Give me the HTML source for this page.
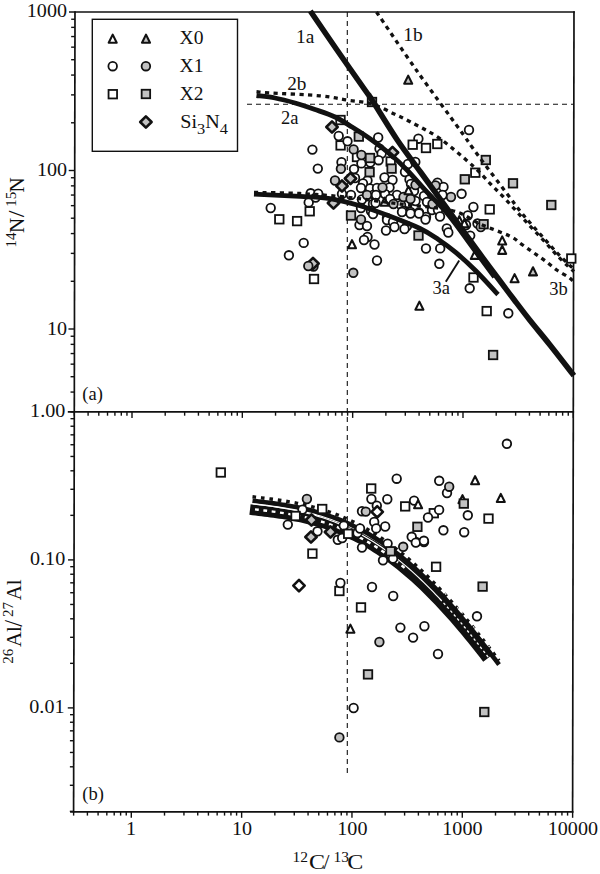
<!DOCTYPE html><html><head><meta charset="utf-8"><style>html,body{margin:0;padding:0;background:#fff;}svg{display:block;}text{font-family:"Liberation Serif",serif;fill:#111;}</style></head><body>
<svg width="600" height="874" viewBox="0 0 600 874">
<rect width="600" height="874" fill="#fff"/>
<line x1="75.00" y1="11.20" x2="73.60" y2="812.60" stroke="#111" stroke-width="1.7" />
<line x1="574.00" y1="11.20" x2="572.60" y2="812.60" stroke="#111" stroke-width="1.7" />
<line x1="69.00" y1="12.00" x2="574.80" y2="12.00" stroke="#111" stroke-width="1.7" />
<line x1="67.80" y1="411.90" x2="574.10" y2="411.90" stroke="#111" stroke-width="1.7" />
<line x1="70.10" y1="811.80" x2="573.40" y2="811.80" stroke="#111" stroke-width="1.7" />
<line x1="70.50" y1="411.88" x2="74.30" y2="411.88" stroke="#111" stroke-width="1.4" />
<line x1="70.53" y1="392.07" x2="74.33" y2="392.07" stroke="#111" stroke-width="1.4" />
<line x1="70.56" y1="376.71" x2="74.36" y2="376.71" stroke="#111" stroke-width="1.4" />
<line x1="70.58" y1="364.16" x2="74.38" y2="364.16" stroke="#111" stroke-width="1.4" />
<line x1="70.60" y1="353.55" x2="74.40" y2="353.55" stroke="#111" stroke-width="1.4" />
<line x1="70.62" y1="344.36" x2="74.42" y2="344.36" stroke="#111" stroke-width="1.4" />
<line x1="70.63" y1="336.25" x2="74.43" y2="336.25" stroke="#111" stroke-width="1.4" />
<line x1="68.45" y1="329.00" x2="74.45" y2="329.00" stroke="#111" stroke-width="1.4" />
<line x1="70.73" y1="281.29" x2="74.53" y2="281.29" stroke="#111" stroke-width="1.4" />
<line x1="70.78" y1="253.38" x2="74.58" y2="253.38" stroke="#111" stroke-width="1.4" />
<line x1="70.81" y1="233.57" x2="74.61" y2="233.57" stroke="#111" stroke-width="1.4" />
<line x1="70.84" y1="218.21" x2="74.64" y2="218.21" stroke="#111" stroke-width="1.4" />
<line x1="70.86" y1="205.66" x2="74.66" y2="205.66" stroke="#111" stroke-width="1.4" />
<line x1="70.88" y1="195.05" x2="74.68" y2="195.05" stroke="#111" stroke-width="1.4" />
<line x1="70.90" y1="185.86" x2="74.70" y2="185.86" stroke="#111" stroke-width="1.4" />
<line x1="70.91" y1="177.75" x2="74.71" y2="177.75" stroke="#111" stroke-width="1.4" />
<line x1="68.72" y1="170.50" x2="74.72" y2="170.50" stroke="#111" stroke-width="1.4" />
<line x1="71.01" y1="122.79" x2="74.81" y2="122.79" stroke="#111" stroke-width="1.4" />
<line x1="71.05" y1="94.88" x2="74.85" y2="94.88" stroke="#111" stroke-width="1.4" />
<line x1="71.09" y1="75.07" x2="74.89" y2="75.07" stroke="#111" stroke-width="1.4" />
<line x1="71.12" y1="59.71" x2="74.92" y2="59.71" stroke="#111" stroke-width="1.4" />
<line x1="71.14" y1="47.16" x2="74.94" y2="47.16" stroke="#111" stroke-width="1.4" />
<line x1="71.16" y1="36.55" x2="74.96" y2="36.55" stroke="#111" stroke-width="1.4" />
<line x1="71.17" y1="27.36" x2="74.97" y2="27.36" stroke="#111" stroke-width="1.4" />
<line x1="71.19" y1="19.25" x2="74.99" y2="19.25" stroke="#111" stroke-width="1.4" />
<line x1="69.80" y1="811.35" x2="73.60" y2="811.35" stroke="#111" stroke-width="1.4" />
<line x1="69.85" y1="785.29" x2="73.65" y2="785.29" stroke="#111" stroke-width="1.4" />
<line x1="69.88" y1="766.80" x2="73.68" y2="766.80" stroke="#111" stroke-width="1.4" />
<line x1="69.90" y1="752.45" x2="73.70" y2="752.45" stroke="#111" stroke-width="1.4" />
<line x1="69.92" y1="740.73" x2="73.72" y2="740.73" stroke="#111" stroke-width="1.4" />
<line x1="69.94" y1="730.83" x2="73.74" y2="730.83" stroke="#111" stroke-width="1.4" />
<line x1="69.96" y1="722.24" x2="73.76" y2="722.24" stroke="#111" stroke-width="1.4" />
<line x1="69.97" y1="714.67" x2="73.77" y2="714.67" stroke="#111" stroke-width="1.4" />
<line x1="67.78" y1="707.90" x2="73.78" y2="707.90" stroke="#111" stroke-width="1.4" />
<line x1="70.06" y1="663.35" x2="73.86" y2="663.35" stroke="#111" stroke-width="1.4" />
<line x1="70.11" y1="637.29" x2="73.91" y2="637.29" stroke="#111" stroke-width="1.4" />
<line x1="70.14" y1="618.80" x2="73.94" y2="618.80" stroke="#111" stroke-width="1.4" />
<line x1="70.16" y1="604.45" x2="73.96" y2="604.45" stroke="#111" stroke-width="1.4" />
<line x1="70.18" y1="592.73" x2="73.98" y2="592.73" stroke="#111" stroke-width="1.4" />
<line x1="70.20" y1="582.83" x2="74.00" y2="582.83" stroke="#111" stroke-width="1.4" />
<line x1="70.22" y1="574.24" x2="74.02" y2="574.24" stroke="#111" stroke-width="1.4" />
<line x1="70.23" y1="566.67" x2="74.03" y2="566.67" stroke="#111" stroke-width="1.4" />
<line x1="68.04" y1="559.90" x2="74.04" y2="559.90" stroke="#111" stroke-width="1.4" />
<line x1="70.32" y1="515.35" x2="74.12" y2="515.35" stroke="#111" stroke-width="1.4" />
<line x1="70.36" y1="489.29" x2="74.16" y2="489.29" stroke="#111" stroke-width="1.4" />
<line x1="70.40" y1="470.80" x2="74.20" y2="470.80" stroke="#111" stroke-width="1.4" />
<line x1="70.42" y1="456.45" x2="74.22" y2="456.45" stroke="#111" stroke-width="1.4" />
<line x1="70.44" y1="444.73" x2="74.24" y2="444.73" stroke="#111" stroke-width="1.4" />
<line x1="70.46" y1="434.83" x2="74.26" y2="434.83" stroke="#111" stroke-width="1.4" />
<line x1="70.48" y1="426.24" x2="74.28" y2="426.24" stroke="#111" stroke-width="1.4" />
<line x1="70.49" y1="418.67" x2="74.29" y2="418.67" stroke="#111" stroke-width="1.4" />
<line x1="74.31" y1="411.90" x2="74.31" y2="415.70" stroke="#111" stroke-width="1.4" />
<line x1="88.10" y1="411.90" x2="88.10" y2="415.70" stroke="#111" stroke-width="1.4" />
<line x1="98.79" y1="411.90" x2="98.79" y2="415.70" stroke="#111" stroke-width="1.4" />
<line x1="107.52" y1="411.90" x2="107.52" y2="415.70" stroke="#111" stroke-width="1.4" />
<line x1="114.91" y1="411.90" x2="114.91" y2="415.70" stroke="#111" stroke-width="1.4" />
<line x1="121.31" y1="411.90" x2="121.31" y2="415.70" stroke="#111" stroke-width="1.4" />
<line x1="126.95" y1="411.90" x2="126.95" y2="415.70" stroke="#111" stroke-width="1.4" />
<line x1="132.00" y1="411.90" x2="132.00" y2="417.90" stroke="#111" stroke-width="1.4" />
<line x1="165.21" y1="411.90" x2="165.21" y2="415.70" stroke="#111" stroke-width="1.4" />
<line x1="184.64" y1="411.90" x2="184.64" y2="415.70" stroke="#111" stroke-width="1.4" />
<line x1="198.43" y1="411.90" x2="198.43" y2="415.70" stroke="#111" stroke-width="1.4" />
<line x1="209.12" y1="411.90" x2="209.12" y2="415.70" stroke="#111" stroke-width="1.4" />
<line x1="217.85" y1="411.90" x2="217.85" y2="415.70" stroke="#111" stroke-width="1.4" />
<line x1="225.24" y1="411.90" x2="225.24" y2="415.70" stroke="#111" stroke-width="1.4" />
<line x1="231.64" y1="411.90" x2="231.64" y2="415.70" stroke="#111" stroke-width="1.4" />
<line x1="237.28" y1="411.90" x2="237.28" y2="415.70" stroke="#111" stroke-width="1.4" />
<line x1="242.33" y1="411.90" x2="242.33" y2="417.90" stroke="#111" stroke-width="1.4" />
<line x1="275.54" y1="411.90" x2="275.54" y2="415.70" stroke="#111" stroke-width="1.4" />
<line x1="294.97" y1="411.90" x2="294.97" y2="415.70" stroke="#111" stroke-width="1.4" />
<line x1="308.76" y1="411.90" x2="308.76" y2="415.70" stroke="#111" stroke-width="1.4" />
<line x1="319.45" y1="411.90" x2="319.45" y2="415.70" stroke="#111" stroke-width="1.4" />
<line x1="328.18" y1="411.90" x2="328.18" y2="415.70" stroke="#111" stroke-width="1.4" />
<line x1="335.57" y1="411.90" x2="335.57" y2="415.70" stroke="#111" stroke-width="1.4" />
<line x1="341.97" y1="411.90" x2="341.97" y2="415.70" stroke="#111" stroke-width="1.4" />
<line x1="347.61" y1="411.90" x2="347.61" y2="415.70" stroke="#111" stroke-width="1.4" />
<line x1="352.66" y1="411.90" x2="352.66" y2="417.90" stroke="#111" stroke-width="1.4" />
<line x1="385.87" y1="411.90" x2="385.87" y2="415.70" stroke="#111" stroke-width="1.4" />
<line x1="405.30" y1="411.90" x2="405.30" y2="415.70" stroke="#111" stroke-width="1.4" />
<line x1="419.09" y1="411.90" x2="419.09" y2="415.70" stroke="#111" stroke-width="1.4" />
<line x1="429.78" y1="411.90" x2="429.78" y2="415.70" stroke="#111" stroke-width="1.4" />
<line x1="438.51" y1="411.90" x2="438.51" y2="415.70" stroke="#111" stroke-width="1.4" />
<line x1="445.90" y1="411.90" x2="445.90" y2="415.70" stroke="#111" stroke-width="1.4" />
<line x1="452.30" y1="411.90" x2="452.30" y2="415.70" stroke="#111" stroke-width="1.4" />
<line x1="457.94" y1="411.90" x2="457.94" y2="415.70" stroke="#111" stroke-width="1.4" />
<line x1="462.99" y1="411.90" x2="462.99" y2="417.90" stroke="#111" stroke-width="1.4" />
<line x1="496.20" y1="411.90" x2="496.20" y2="415.70" stroke="#111" stroke-width="1.4" />
<line x1="515.63" y1="411.90" x2="515.63" y2="415.70" stroke="#111" stroke-width="1.4" />
<line x1="529.42" y1="411.90" x2="529.42" y2="415.70" stroke="#111" stroke-width="1.4" />
<line x1="540.11" y1="411.90" x2="540.11" y2="415.70" stroke="#111" stroke-width="1.4" />
<line x1="548.84" y1="411.90" x2="548.84" y2="415.70" stroke="#111" stroke-width="1.4" />
<line x1="556.23" y1="411.90" x2="556.23" y2="415.70" stroke="#111" stroke-width="1.4" />
<line x1="562.63" y1="411.90" x2="562.63" y2="415.70" stroke="#111" stroke-width="1.4" />
<line x1="568.27" y1="411.90" x2="568.27" y2="415.70" stroke="#111" stroke-width="1.4" />
<line x1="73.61" y1="811.80" x2="73.61" y2="815.60" stroke="#111" stroke-width="1.4" />
<line x1="87.40" y1="811.80" x2="87.40" y2="815.60" stroke="#111" stroke-width="1.4" />
<line x1="98.09" y1="811.80" x2="98.09" y2="815.60" stroke="#111" stroke-width="1.4" />
<line x1="106.82" y1="811.80" x2="106.82" y2="815.60" stroke="#111" stroke-width="1.4" />
<line x1="114.21" y1="811.80" x2="114.21" y2="815.60" stroke="#111" stroke-width="1.4" />
<line x1="120.61" y1="811.80" x2="120.61" y2="815.60" stroke="#111" stroke-width="1.4" />
<line x1="126.25" y1="811.80" x2="126.25" y2="815.60" stroke="#111" stroke-width="1.4" />
<line x1="131.30" y1="811.80" x2="131.30" y2="817.80" stroke="#111" stroke-width="1.4" />
<line x1="164.51" y1="811.80" x2="164.51" y2="815.60" stroke="#111" stroke-width="1.4" />
<line x1="183.94" y1="811.80" x2="183.94" y2="815.60" stroke="#111" stroke-width="1.4" />
<line x1="197.73" y1="811.80" x2="197.73" y2="815.60" stroke="#111" stroke-width="1.4" />
<line x1="208.42" y1="811.80" x2="208.42" y2="815.60" stroke="#111" stroke-width="1.4" />
<line x1="217.15" y1="811.80" x2="217.15" y2="815.60" stroke="#111" stroke-width="1.4" />
<line x1="224.54" y1="811.80" x2="224.54" y2="815.60" stroke="#111" stroke-width="1.4" />
<line x1="230.94" y1="811.80" x2="230.94" y2="815.60" stroke="#111" stroke-width="1.4" />
<line x1="236.58" y1="811.80" x2="236.58" y2="815.60" stroke="#111" stroke-width="1.4" />
<line x1="241.63" y1="811.80" x2="241.63" y2="817.80" stroke="#111" stroke-width="1.4" />
<line x1="274.84" y1="811.80" x2="274.84" y2="815.60" stroke="#111" stroke-width="1.4" />
<line x1="294.27" y1="811.80" x2="294.27" y2="815.60" stroke="#111" stroke-width="1.4" />
<line x1="308.06" y1="811.80" x2="308.06" y2="815.60" stroke="#111" stroke-width="1.4" />
<line x1="318.75" y1="811.80" x2="318.75" y2="815.60" stroke="#111" stroke-width="1.4" />
<line x1="327.48" y1="811.80" x2="327.48" y2="815.60" stroke="#111" stroke-width="1.4" />
<line x1="334.87" y1="811.80" x2="334.87" y2="815.60" stroke="#111" stroke-width="1.4" />
<line x1="341.27" y1="811.80" x2="341.27" y2="815.60" stroke="#111" stroke-width="1.4" />
<line x1="346.91" y1="811.80" x2="346.91" y2="815.60" stroke="#111" stroke-width="1.4" />
<line x1="351.96" y1="811.80" x2="351.96" y2="817.80" stroke="#111" stroke-width="1.4" />
<line x1="385.17" y1="811.80" x2="385.17" y2="815.60" stroke="#111" stroke-width="1.4" />
<line x1="404.60" y1="811.80" x2="404.60" y2="815.60" stroke="#111" stroke-width="1.4" />
<line x1="418.39" y1="811.80" x2="418.39" y2="815.60" stroke="#111" stroke-width="1.4" />
<line x1="429.08" y1="811.80" x2="429.08" y2="815.60" stroke="#111" stroke-width="1.4" />
<line x1="437.81" y1="811.80" x2="437.81" y2="815.60" stroke="#111" stroke-width="1.4" />
<line x1="445.20" y1="811.80" x2="445.20" y2="815.60" stroke="#111" stroke-width="1.4" />
<line x1="451.60" y1="811.80" x2="451.60" y2="815.60" stroke="#111" stroke-width="1.4" />
<line x1="457.24" y1="811.80" x2="457.24" y2="815.60" stroke="#111" stroke-width="1.4" />
<line x1="462.29" y1="811.80" x2="462.29" y2="817.80" stroke="#111" stroke-width="1.4" />
<line x1="495.50" y1="811.80" x2="495.50" y2="815.60" stroke="#111" stroke-width="1.4" />
<line x1="514.93" y1="811.80" x2="514.93" y2="815.60" stroke="#111" stroke-width="1.4" />
<line x1="528.72" y1="811.80" x2="528.72" y2="815.60" stroke="#111" stroke-width="1.4" />
<line x1="539.41" y1="811.80" x2="539.41" y2="815.60" stroke="#111" stroke-width="1.4" />
<line x1="548.14" y1="811.80" x2="548.14" y2="815.60" stroke="#111" stroke-width="1.4" />
<line x1="555.53" y1="811.80" x2="555.53" y2="815.60" stroke="#111" stroke-width="1.4" />
<line x1="561.93" y1="811.80" x2="561.93" y2="815.60" stroke="#111" stroke-width="1.4" />
<line x1="567.57" y1="811.80" x2="567.57" y2="815.60" stroke="#111" stroke-width="1.4" />
<line x1="573.32" y1="411.90" x2="573.32" y2="417.90" stroke="#111" stroke-width="1.4" />
<line x1="572.62" y1="811.80" x2="572.62" y2="817.80" stroke="#111" stroke-width="1.4" />
<line x1="347.3" y1="12" x2="347.3" y2="776" stroke="#111" stroke-width="1.1" stroke-dasharray="5 4"/>
<line x1="247" y1="104.2" x2="574" y2="104.2" stroke="#111" stroke-width="1.1" stroke-dasharray="5 4"/>
<rect x="336.25" y="115.75" width="8.5" height="8.5" fill="#fff" stroke="#111" stroke-width="1.8"/>
<circle cx="338.7" cy="136" r="4.3" fill="#fff" stroke="#111" stroke-width="1.8"/>
<rect x="336.35" y="141.15" width="8.5" height="8.5" fill="#fff" stroke="#111" stroke-width="1.8"/>
<circle cx="347.5" cy="141.3" r="4.3" fill="#fff" stroke="#111" stroke-width="1.8"/>
<circle cx="378.2" cy="137.5" r="4.3" fill="#fff" stroke="#111" stroke-width="1.8"/>
<rect x="352.75" y="152.75" width="8.5" height="8.5" fill="#fff" stroke="#111" stroke-width="1.8"/>
<circle cx="379.5" cy="148.8" r="4.3" fill="#fff" stroke="#111" stroke-width="1.8"/>
<circle cx="381.6" cy="153.5" r="4.3" fill="#fff" stroke="#111" stroke-width="1.8"/>
<circle cx="341.5" cy="162.2" r="4.3" fill="#fff" stroke="#111" stroke-width="1.8"/>
<circle cx="354" cy="169.1" r="4.3" fill="#fff" stroke="#111" stroke-width="1.8"/>
<circle cx="361.4" cy="163.4" r="4.3" fill="#fff" stroke="#111" stroke-width="1.8"/>
<circle cx="370.3" cy="162.5" r="4.3" fill="#fff" stroke="#111" stroke-width="1.8"/>
<circle cx="378.6" cy="160.2" r="4.3" fill="#fff" stroke="#111" stroke-width="1.8"/>
<rect x="386.45" y="157.25" width="8.5" height="8.5" fill="#fff" stroke="#111" stroke-width="1.8"/>
<circle cx="312.4" cy="149.6" r="4.3" fill="#fff" stroke="#111" stroke-width="1.8"/>
<circle cx="317.8" cy="168.6" r="4.3" fill="#fff" stroke="#111" stroke-width="1.8"/>
<circle cx="270.7" cy="208" r="4.3" fill="#fff" stroke="#111" stroke-width="1.8"/>
<rect x="275.05" y="215.05" width="8.5" height="8.5" fill="#fff" stroke="#111" stroke-width="1.8"/>
<rect x="292.85" y="216.85" width="8.5" height="8.5" fill="#fff" stroke="#111" stroke-width="1.8"/>
<rect x="305.45" y="207.05" width="8.5" height="8.5" fill="#fff" stroke="#111" stroke-width="1.8"/>
<circle cx="308.7" cy="202.4" r="4.3" fill="#fff" stroke="#111" stroke-width="1.8"/>
<circle cx="310.7" cy="193.3" r="4.3" fill="#fff" stroke="#111" stroke-width="1.8"/>
<circle cx="315.6" cy="197.6" r="4.3" fill="#fff" stroke="#111" stroke-width="1.8"/>
<circle cx="318.2" cy="193.6" r="4.3" fill="#fff" stroke="#111" stroke-width="1.8"/>
<circle cx="303.7" cy="242.9" r="4.3" fill="#fff" stroke="#111" stroke-width="1.8"/>
<circle cx="288.9" cy="255.3" r="4.3" fill="#fff" stroke="#111" stroke-width="1.8"/>
<rect x="309.75" y="274.75" width="8.5" height="8.5" fill="#fff" stroke="#111" stroke-width="1.8"/>
<circle cx="355" cy="178" r="4.3" fill="#fff" stroke="#111" stroke-width="1.8"/>
<circle cx="367.5" cy="180.5" r="4.3" fill="#fff" stroke="#111" stroke-width="1.8"/>
<circle cx="363" cy="183.5" r="4.3" fill="#fff" stroke="#111" stroke-width="1.8"/>
<circle cx="361" cy="188" r="4.3" fill="#fff" stroke="#111" stroke-width="1.8"/>
<circle cx="370" cy="188.5" r="4.3" fill="#fff" stroke="#111" stroke-width="1.8"/>
<circle cx="342" cy="194" r="4.3" fill="#fff" stroke="#111" stroke-width="1.8"/>
<circle cx="351" cy="195" r="4.3" fill="#fff" stroke="#111" stroke-width="1.8"/>
<circle cx="374" cy="194.5" r="4.3" fill="#fff" stroke="#111" stroke-width="1.8"/>
<circle cx="362" cy="199.5" r="4.3" fill="#fff" stroke="#111" stroke-width="1.8"/>
<circle cx="373" cy="204" r="4.3" fill="#fff" stroke="#111" stroke-width="1.8"/>
<circle cx="361" cy="208" r="4.3" fill="#fff" stroke="#111" stroke-width="1.8"/>
<circle cx="371" cy="211" r="4.3" fill="#fff" stroke="#111" stroke-width="1.8"/>
<circle cx="373" cy="214" r="4.3" fill="#fff" stroke="#111" stroke-width="1.8"/>
<circle cx="359.5" cy="225" r="4.3" fill="#fff" stroke="#111" stroke-width="1.8"/>
<circle cx="367" cy="226" r="4.3" fill="#fff" stroke="#111" stroke-width="1.8"/>
<circle cx="367.5" cy="237" r="4.3" fill="#fff" stroke="#111" stroke-width="1.8"/>
<circle cx="364" cy="240" r="4.3" fill="#fff" stroke="#111" stroke-width="1.8"/>
<circle cx="374.5" cy="244.5" r="4.3" fill="#fff" stroke="#111" stroke-width="1.8"/>
<circle cx="384.5" cy="177.5" r="4.3" fill="#fff" stroke="#111" stroke-width="1.8"/>
<circle cx="392.5" cy="180" r="4.3" fill="#fff" stroke="#111" stroke-width="1.8"/>
<circle cx="408" cy="164" r="4.3" fill="#fff" stroke="#111" stroke-width="1.8"/>
<circle cx="415.3" cy="162" r="4.3" fill="#fff" stroke="#111" stroke-width="1.8"/>
<circle cx="405" cy="172" r="4.3" fill="#fff" stroke="#111" stroke-width="1.8"/>
<circle cx="409.5" cy="179.5" r="4.3" fill="#fff" stroke="#111" stroke-width="1.8"/>
<circle cx="411" cy="184" r="4.3" fill="#fff" stroke="#111" stroke-width="1.8"/>
<circle cx="377" cy="188" r="4.3" fill="#fff" stroke="#111" stroke-width="1.8"/>
<circle cx="389.5" cy="187.5" r="4.3" fill="#fff" stroke="#111" stroke-width="1.8"/>
<circle cx="414" cy="191" r="4.3" fill="#fff" stroke="#111" stroke-width="1.8"/>
<circle cx="376" cy="195" r="4.3" fill="#fff" stroke="#111" stroke-width="1.8"/>
<circle cx="385" cy="194" r="4.3" fill="#fff" stroke="#111" stroke-width="1.8"/>
<circle cx="397" cy="195" r="4.3" fill="#fff" stroke="#111" stroke-width="1.8"/>
<circle cx="390" cy="199" r="4.3" fill="#fff" stroke="#111" stroke-width="1.8"/>
<circle cx="408" cy="203" r="4.3" fill="#fff" stroke="#111" stroke-width="1.8"/>
<circle cx="415.5" cy="201" r="4.3" fill="#fff" stroke="#111" stroke-width="1.8"/>
<circle cx="375.5" cy="203" r="4.3" fill="#fff" stroke="#111" stroke-width="1.8"/>
<circle cx="401" cy="205" r="4.3" fill="#fff" stroke="#111" stroke-width="1.8"/>
<circle cx="424" cy="196" r="4.3" fill="#fff" stroke="#111" stroke-width="1.8"/>
<circle cx="427" cy="202" r="4.3" fill="#fff" stroke="#111" stroke-width="1.8"/>
<circle cx="403" cy="211" r="4.3" fill="#fff" stroke="#111" stroke-width="1.8"/>
<circle cx="410.5" cy="212" r="4.3" fill="#fff" stroke="#111" stroke-width="1.8"/>
<circle cx="419" cy="212.5" r="4.3" fill="#fff" stroke="#111" stroke-width="1.8"/>
<circle cx="426" cy="217" r="4.3" fill="#fff" stroke="#111" stroke-width="1.8"/>
<circle cx="387" cy="218" r="4.3" fill="#fff" stroke="#111" stroke-width="1.8"/>
<circle cx="402" cy="212" r="4.3" fill="#fff" stroke="#111" stroke-width="1.8"/>
<circle cx="387" cy="220" r="4.3" fill="#fff" stroke="#111" stroke-width="1.8"/>
<circle cx="393" cy="222" r="4.3" fill="#fff" stroke="#111" stroke-width="1.8"/>
<circle cx="394.5" cy="227" r="4.3" fill="#fff" stroke="#111" stroke-width="1.8"/>
<circle cx="386" cy="230.5" r="4.3" fill="#fff" stroke="#111" stroke-width="1.8"/>
<circle cx="407" cy="226" r="4.3" fill="#fff" stroke="#111" stroke-width="1.8"/>
<circle cx="404.5" cy="229" r="4.3" fill="#fff" stroke="#111" stroke-width="1.8"/>
<circle cx="426" cy="248.5" r="4.3" fill="#fff" stroke="#111" stroke-width="1.8"/>
<circle cx="377" cy="260.5" r="4.3" fill="#fff" stroke="#111" stroke-width="1.8"/>
<circle cx="410.5" cy="213.5" r="4.3" fill="#fff" stroke="#111" stroke-width="1.8"/>
<circle cx="419" cy="213.5" r="4.3" fill="#fff" stroke="#111" stroke-width="1.8"/>
<circle cx="425.5" cy="219.5" r="4.3" fill="#fff" stroke="#111" stroke-width="1.8"/>
<circle cx="469" cy="130" r="4.3" fill="#fff" stroke="#111" stroke-width="1.8"/>
<circle cx="418.4" cy="138.7" r="4.3" fill="#fff" stroke="#111" stroke-width="1.8"/>
<rect x="408.45" y="140.45" width="8.5" height="8.5" fill="#fff" stroke="#111" stroke-width="1.8"/>
<rect x="421.75" y="143.75" width="8.5" height="8.5" fill="#fff" stroke="#111" stroke-width="1.8"/>
<rect x="433.05" y="139.75" width="8.5" height="8.5" fill="#fff" stroke="#111" stroke-width="1.8"/>
<rect x="471.05" y="168.45" width="8.5" height="8.5" fill="#fff" stroke="#111" stroke-width="1.8"/>
<circle cx="461.6" cy="193.8" r="4.3" fill="#fff" stroke="#111" stroke-width="1.8"/>
<circle cx="437.5" cy="182.7" r="4.3" fill="#fff" stroke="#111" stroke-width="1.8"/>
<circle cx="443.5" cy="187" r="4.3" fill="#fff" stroke="#111" stroke-width="1.8"/>
<circle cx="442.5" cy="195" r="4.3" fill="#fff" stroke="#111" stroke-width="1.8"/>
<circle cx="432" cy="210" r="4.3" fill="#fff" stroke="#111" stroke-width="1.8"/>
<circle cx="438" cy="210" r="4.3" fill="#fff" stroke="#111" stroke-width="1.8"/>
<circle cx="440" cy="216.5" r="4.3" fill="#fff" stroke="#111" stroke-width="1.8"/>
<circle cx="473.4" cy="207" r="4.3" fill="#fff" stroke="#111" stroke-width="1.8"/>
<circle cx="467.8" cy="215.5" r="4.3" fill="#fff" stroke="#111" stroke-width="1.8"/>
<circle cx="466" cy="225" r="4.3" fill="#fff" stroke="#111" stroke-width="1.8"/>
<circle cx="477.5" cy="223.5" r="4.3" fill="#fff" stroke="#111" stroke-width="1.8"/>
<circle cx="480.8" cy="227" r="4.3" fill="#fff" stroke="#111" stroke-width="1.8"/>
<circle cx="446.8" cy="228.5" r="4.3" fill="#fff" stroke="#111" stroke-width="1.8"/>
<circle cx="448.3" cy="232.5" r="4.3" fill="#fff" stroke="#111" stroke-width="1.8"/>
<circle cx="470.2" cy="235.6" r="4.3" fill="#fff" stroke="#111" stroke-width="1.8"/>
<circle cx="440.2" cy="248.4" r="4.3" fill="#fff" stroke="#111" stroke-width="1.8"/>
<circle cx="439.3" cy="263.8" r="4.3" fill="#fff" stroke="#111" stroke-width="1.8"/>
<rect x="485.45" y="205.15" width="8.5" height="8.5" fill="#fff" stroke="#111" stroke-width="1.8"/>
<rect x="567.05" y="254.25" width="8.5" height="8.5" fill="#fff" stroke="#111" stroke-width="1.8"/>
<rect x="469.25" y="273.25" width="8.5" height="8.5" fill="#fff" stroke="#111" stroke-width="1.8"/>
<circle cx="469.7" cy="288.3" r="4.3" fill="#fff" stroke="#111" stroke-width="1.8"/>
<rect x="482.45" y="306.85" width="8.5" height="8.5" fill="#fff" stroke="#111" stroke-width="1.8"/>
<circle cx="508.3" cy="313.3" r="4.3" fill="#fff" stroke="#111" stroke-width="1.8"/>
<rect x="367.75" y="97.75" width="8.5" height="8.5" fill="#c2c2c2" stroke="#111" stroke-width="1.8"/>
<polygon points="332.00,121.30 337.70,127.00 332.00,132.70 326.30,127.00" fill="#c2c2c2" stroke="#111" stroke-width="2.6" stroke-linejoin="round"/>
<circle cx="353.6" cy="149.4" r="4.3" fill="#c2c2c2" stroke="#111" stroke-width="1.8"/>
<rect x="354.55" y="132.35" width="8.5" height="8.5" fill="#c2c2c2" stroke="#111" stroke-width="1.8"/>
<circle cx="361.4" cy="155" r="4.3" fill="#c2c2c2" stroke="#111" stroke-width="1.8"/>
<rect x="365.75" y="153.75" width="8.5" height="8.5" fill="#c2c2c2" stroke="#111" stroke-width="1.8"/>
<polygon points="392.50,146.80 398.20,152.50 392.50,158.20 386.80,152.50" fill="#c2c2c2" stroke="#111" stroke-width="2.6" stroke-linejoin="round"/>
<circle cx="340.9" cy="168.8" r="4.3" fill="#c2c2c2" stroke="#111" stroke-width="1.8"/>
<rect x="387.35" y="164.35" width="8.5" height="8.5" fill="#c2c2c2" stroke="#111" stroke-width="1.8"/>
<rect x="365.35" y="167.95" width="8.5" height="8.5" fill="#c2c2c2" stroke="#111" stroke-width="1.8"/>
<circle cx="313.5" cy="266.5" r="4.3" fill="#c2c2c2" stroke="#111" stroke-width="1.8"/>
<polygon points="313.00,257.80 318.70,263.50 313.00,269.20 307.30,263.50" fill="#c2c2c2" stroke="#111" stroke-width="2.6" stroke-linejoin="round"/>
<circle cx="308.3" cy="266" r="4.3" fill="#c2c2c2" stroke="#111" stroke-width="1.8"/>
<circle cx="335" cy="180.5" r="4.3" fill="#c2c2c2" stroke="#111" stroke-width="1.8"/>
<polygon points="350.50,172.80 356.20,178.50 350.50,184.20 344.80,178.50" fill="#c2c2c2" stroke="#111" stroke-width="2.6" stroke-linejoin="round"/>
<polygon points="342.00,180.30 347.70,186.00 342.00,191.70 336.30,186.00" fill="#c2c2c2" stroke="#111" stroke-width="2.6" stroke-linejoin="round"/>
<circle cx="367" cy="195" r="4.3" fill="#c2c2c2" stroke="#111" stroke-width="1.8"/>
<polygon points="333.50,197.30 339.20,203.00 333.50,208.70 327.80,203.00" fill="#c2c2c2" stroke="#111" stroke-width="2.6" stroke-linejoin="round"/>
<rect x="346.75" y="211.25" width="8.5" height="8.5" fill="#c2c2c2" stroke="#111" stroke-width="1.8"/>
<circle cx="361" cy="219.5" r="4.3" fill="#c2c2c2" stroke="#111" stroke-width="1.8"/>
<circle cx="353.3" cy="272.8" r="4.3" fill="#c2c2c2" stroke="#111" stroke-width="1.8"/>
<circle cx="415.5" cy="185" r="4.3" fill="#c2c2c2" stroke="#111" stroke-width="1.8"/>
<circle cx="382.5" cy="187.5" r="4.3" fill="#c2c2c2" stroke="#111" stroke-width="1.8"/>
<circle cx="403.5" cy="197" r="4.3" fill="#c2c2c2" stroke="#111" stroke-width="1.8"/>
<circle cx="410.5" cy="199" r="4.3" fill="#c2c2c2" stroke="#111" stroke-width="1.8"/>
<circle cx="393.5" cy="204" r="4.3" fill="#c2c2c2" stroke="#111" stroke-width="1.8"/>
<rect x="414.25" y="231.25" width="8.5" height="8.5" fill="#c2c2c2" stroke="#111" stroke-width="1.8"/>
<rect x="460.55" y="175.05" width="8.5" height="8.5" fill="#c2c2c2" stroke="#111" stroke-width="1.8"/>
<circle cx="435.5" cy="185.5" r="4.3" fill="#c2c2c2" stroke="#111" stroke-width="1.8"/>
<circle cx="451" cy="197" r="4.3" fill="#c2c2c2" stroke="#111" stroke-width="1.8"/>
<circle cx="432.5" cy="204" r="4.3" fill="#c2c2c2" stroke="#111" stroke-width="1.8"/>
<rect x="479.35" y="219.95" width="8.5" height="8.5" fill="#c2c2c2" stroke="#111" stroke-width="1.8"/>
<rect x="481.55" y="155.75" width="8.5" height="8.5" fill="#c2c2c2" stroke="#111" stroke-width="1.8"/>
<rect x="508.75" y="179.05" width="8.5" height="8.5" fill="#c2c2c2" stroke="#111" stroke-width="1.8"/>
<rect x="547.05" y="200.75" width="8.5" height="8.5" fill="#c2c2c2" stroke="#111" stroke-width="1.8"/>
<rect x="488.85" y="350.75" width="8.5" height="8.5" fill="#c2c2c2" stroke="#111" stroke-width="1.8"/>
<polygon points="408.20,75.60 412.20,83.70 404.20,83.70" fill="#c2c2c2" stroke="#111" stroke-width="2.1" stroke-linejoin="round"/>
<polygon points="352.00,240.10 356.00,248.20 348.00,248.20" fill="#fff" stroke="#111" stroke-width="2.1" stroke-linejoin="round"/>
<polygon points="408.50,186.10 412.50,194.20 404.50,194.20" fill="#fff" stroke="#111" stroke-width="2.1" stroke-linejoin="round"/>
<polygon points="384.50,197.60 388.50,205.70 380.50,205.70" fill="#fff" stroke="#111" stroke-width="2.1" stroke-linejoin="round"/>
<polygon points="459.30,216.10 463.30,224.20 455.30,224.20" fill="#fff" stroke="#111" stroke-width="2.1" stroke-linejoin="round"/>
<polygon points="464.40,219.10 468.40,227.20 460.40,227.20" fill="#fff" stroke="#111" stroke-width="2.1" stroke-linejoin="round"/>
<polygon points="474.80,250.80 478.80,258.90 470.80,258.90" fill="#fff" stroke="#111" stroke-width="2.1" stroke-linejoin="round"/>
<polygon points="502.20,236.40 506.20,244.50 498.20,244.50" fill="#fff" stroke="#111" stroke-width="2.1" stroke-linejoin="round"/>
<polygon points="502.20,245.80 506.20,253.90 498.20,253.90" fill="#fff" stroke="#111" stroke-width="2.1" stroke-linejoin="round"/>
<polygon points="533.00,267.30 537.00,275.40 529.00,275.40" fill="#c2c2c2" stroke="#111" stroke-width="2.1" stroke-linejoin="round"/>
<polygon points="514.60,274.10 518.60,282.20 510.60,282.20" fill="#fff" stroke="#111" stroke-width="2.1" stroke-linejoin="round"/>
<polygon points="419.40,301.60 423.40,309.70 415.40,309.70" fill="#fff" stroke="#111" stroke-width="2.1" stroke-linejoin="round"/>
<path d="M310.30,11.00 C314.75,17.50 327.88,36.83 337.00,50.00 C346.12,63.17 359.17,81.67 365.00,90.00 C370.83,98.33 366.62,91.67 372.00,100.00 C377.38,108.33 389.22,128.00 397.30,140.00 C405.38,152.00 411.92,160.17 420.50,172.00 C429.08,183.83 439.38,198.00 448.80,211.00 C458.22,224.00 468.58,238.50 477.00,250.00 C485.42,261.50 493.08,271.67 499.30,280.00 C505.52,288.33 509.23,293.33 514.30,300.00 C519.37,306.67 523.75,312.50 529.70,320.00 C535.65,327.50 542.63,335.73 550.00,345.00 C557.37,354.27 569.92,370.50 573.90,375.60" fill="none" stroke="#111" stroke-width="5.6" stroke-linecap="butt" stroke-linejoin="round"/>
<path d="M256.50,95.50 C259.58,95.92 268.58,96.75 275.00,98.00 C281.42,99.25 288.33,101.08 295.00,103.00 C301.67,104.92 308.33,107.17 315.00,109.50 C321.67,111.83 328.83,114.08 335.00,117.00 C341.17,119.92 346.17,123.38 352.00,127.00 C357.83,130.62 363.67,134.20 370.00,138.70 C376.33,143.20 383.83,148.78 390.00,154.00 C396.17,159.22 401.00,163.83 407.00,170.00 C413.00,176.17 419.08,183.50 426.00,191.00 C432.92,198.50 440.42,205.17 448.50,215.00 C456.58,224.83 466.83,239.67 474.50,250.00 C482.17,260.33 491.17,272.50 494.50,277.00" fill="none" stroke="#111" stroke-width="4.8" stroke-linecap="butt" stroke-linejoin="round"/>
<path d="M254.00,194.20 C261.67,194.57 287.33,195.67 300.00,196.40 C312.67,197.13 320.00,197.03 330.00,198.60 C340.00,200.17 350.00,202.85 360.00,205.80 C370.00,208.75 380.00,212.52 390.00,216.30 C400.00,220.08 412.00,224.67 420.00,228.50 C428.00,232.33 432.00,235.27 438.00,239.30 C444.00,243.33 449.67,247.42 456.00,252.70 C462.33,257.98 469.00,264.03 476.00,271.00 C483.00,277.97 494.33,290.58 498.00,294.50" fill="none" stroke="#111" stroke-width="4.8" stroke-linecap="butt" stroke-linejoin="round"/>
<path d="M256.50,91.60 C258.75,91.82 259.42,92.20 270.00,92.90 C280.58,93.60 307.17,94.62 320.00,95.80 C332.83,96.98 338.33,98.63 347.00,100.00 C355.67,101.37 364.12,101.67 372.00,104.00 C379.88,106.33 387.85,111.00 394.30,114.00 C400.75,117.00 403.08,117.88 410.70,122.00 C418.32,126.12 429.62,131.37 440.00,138.70 C450.38,146.03 464.50,158.37 473.00,166.00 C481.50,173.63 486.00,179.42 491.00,184.50 C496.00,189.58 497.88,191.08 503.00,196.50 C508.12,201.92 516.65,211.50 521.70,217.00 C526.75,222.50 529.42,225.33 533.30,229.50 C537.18,233.67 541.10,237.75 545.00,242.00 C548.90,246.25 552.82,250.92 556.70,255.00 C560.58,259.08 565.42,263.75 568.30,266.50 C571.18,269.25 573.05,270.67 574.00,271.50" fill="none" stroke="#111" stroke-width="3.3" stroke-linecap="butt" stroke-linejoin="round" stroke-dasharray="4.2 4.4"/>
<path d="M376.50,12.00 C383.25,21.83 403.08,51.33 417.00,71.00 C430.92,90.67 450.83,117.33 460.00,130.00 C469.17,142.67 467.42,140.67 472.00,147.00 C476.58,153.33 481.50,160.00 487.50,168.00 C493.50,176.00 502.30,187.50 508.00,195.00 C513.70,202.50 517.48,207.75 521.70,213.00 C525.92,218.25 529.42,222.08 533.30,226.50 C537.18,230.92 541.10,235.17 545.00,239.50 C548.90,243.83 552.82,248.42 556.70,252.50 C560.58,256.58 565.42,261.25 568.30,264.00 C571.18,266.75 573.05,268.17 574.00,269.00" fill="none" stroke="#111" stroke-width="3.3" stroke-linecap="butt" stroke-linejoin="round" stroke-dasharray="4.2 4.4"/>
<path d="M254.00,192.40 C261.67,192.58 284.83,192.73 300.00,193.50 C315.17,194.27 328.33,195.25 345.00,197.00 C361.67,198.75 382.17,201.75 400.00,204.00 C417.83,206.25 438.67,207.17 452.00,210.50 C465.33,213.83 470.33,219.72 480.00,224.00 C489.67,228.28 503.05,232.82 510.00,236.20 C516.95,239.58 517.82,241.58 521.70,244.30 C525.58,247.02 529.42,249.77 533.30,252.50 C537.18,255.23 541.10,257.78 545.00,260.70 C548.90,263.62 552.82,267.28 556.70,270.00 C560.58,272.72 565.58,275.17 568.30,277.00 C571.02,278.83 572.22,280.33 573.00,281.00" fill="none" stroke="#111" stroke-width="3.3" stroke-linecap="butt" stroke-linejoin="round" stroke-dasharray="4.2 4.4"/>
<line x1="445.8" y1="281.7" x2="459.2" y2="260.4" stroke="#111" stroke-width="1.9"/>
<path d="M252.50,496.78 L255.50,497.13 L258.50,497.48 L261.50,497.84 L264.50,498.20 L267.50,498.58 L270.50,498.96 L273.50,499.36 L276.50,499.78 L279.50,500.21 L282.50,500.67 L285.50,501.14 L288.50,501.65 L291.50,502.17 L294.50,502.73 L297.50,503.32 L300.50,503.94 L303.50,504.60 L306.50,505.29 L309.50,506.02 L312.50,506.79 L315.50,507.60 L318.50,508.45 L321.50,509.34 L324.50,510.29 L327.50,511.27 L330.50,512.31 L333.50,513.39 L336.50,514.53 L339.50,515.71 L342.50,516.95 L345.50,518.24 L348.50,519.59 L351.50,520.99 L354.50,522.45 L357.50,523.96 L360.50,525.53 L363.50,527.16 L366.50,528.85 L369.50,530.60 L372.50,532.41 L375.50,534.27 L378.50,536.20 L381.50,538.19 L384.50,540.24 L387.50,542.35 L390.50,544.52 L393.50,546.75 L396.50,549.05 L399.50,551.40 L402.50,553.82 L405.50,556.30 L408.50,558.83 L411.50,561.43 L414.50,564.09 L417.50,566.81 L420.50,569.59 L423.50,572.43 L426.50,575.33 L429.50,578.28 L432.50,581.29 L435.50,584.36 L438.50,587.48 L441.50,590.66 L444.50,593.90 L447.50,597.18 L450.50,600.52 L453.50,603.91 L456.50,607.34 L459.50,610.83 L462.50,614.37 L465.50,617.95 L468.50,621.57 L471.50,625.24 L474.50,628.95 L477.50,632.70 L480.50,636.49 L483.50,640.32 L486.50,644.18 L489.50,648.07 L492.50,652.00 L495.50,655.96 L498.50,659.94 L499.00,660.61" fill="none" stroke="#111" stroke-width="3.4" stroke-dasharray="3.6 4.9"/>
<path d="M252.50,500.78 L255.50,501.13 L258.50,501.48 L261.50,501.84 L264.50,502.20 L267.50,502.58 L270.50,502.96 L273.50,503.36 L276.50,503.78 L279.50,504.21 L282.50,504.67 L285.50,505.14 L288.50,505.65 L291.50,506.17 L294.50,506.73 L297.50,507.32 L300.50,507.94 L303.50,508.60 L306.50,509.29 L309.50,510.02 L312.50,510.79 L315.50,511.60 L318.50,512.45 L321.50,513.34 L324.50,514.29 L327.50,515.27 L330.50,516.31 L333.50,517.39 L336.50,518.53 L339.50,519.71 L342.50,520.95 L345.50,522.24 L348.50,523.59 L351.50,524.99 L354.50,526.45 L357.50,527.96 L360.50,529.53 L363.50,531.16 L366.50,532.85 L369.50,534.60 L372.50,536.41 L375.50,538.27 L378.50,540.20 L381.50,542.19 L384.50,544.24 L387.50,546.35 L390.50,548.52 L393.50,550.75 L396.50,553.05 L399.50,555.40 L402.50,557.82 L405.50,560.30 L408.50,562.83 L411.50,565.43 L414.50,568.09 L417.50,570.81 L420.50,573.59 L423.50,576.43 L426.50,579.33 L429.50,582.28 L432.50,585.29 L435.50,588.36 L438.50,591.48 L441.50,594.66 L444.50,597.90 L447.50,601.18 L450.50,604.52 L453.50,607.91 L456.50,611.34 L459.50,614.83 L462.50,618.37 L465.50,621.95 L468.50,625.57 L471.50,629.24 L474.50,632.95 L477.50,636.70 L480.50,640.49 L483.50,644.32 L486.50,648.18 L489.50,652.07 L492.50,656.00 L495.50,659.96 L498.50,663.94 L499.00,664.61" fill="none" stroke="#111" stroke-width="4.6"/>
<path d="M250.00,509.58 L253.00,509.94 L256.00,510.29 L259.00,510.64 L262.00,511.00 L265.00,511.37 L268.00,511.74 L271.00,512.13 L274.00,512.53 L277.00,512.95 L280.00,513.39 L283.00,513.84 L286.00,514.32 L289.00,514.83 L292.00,515.37 L295.00,515.93 L298.00,516.52 L301.00,517.15 L304.00,517.81 L307.00,518.51 L310.00,519.24 L313.00,520.02 L316.00,520.84 L319.00,521.70 L322.00,522.60 L325.00,523.55 L328.00,524.54 L331.00,525.59 L334.00,526.68 L337.00,527.82 L340.00,529.02 L343.00,530.26 L346.00,531.57 L349.00,532.92 L352.00,534.33 L355.00,535.80 L358.00,537.32 L361.00,538.90 L364.00,540.54 L367.00,542.24 L370.00,544.00 L373.00,545.81 L376.00,547.69 L379.00,549.63 L382.00,551.62 L385.00,553.68 L388.00,555.80 L391.00,557.99 L394.00,560.23 L397.00,562.53 L400.00,564.90 L403.00,567.33 L406.00,569.81 L409.00,572.36 L412.00,574.97 L415.00,577.64 L418.00,580.37 L421.00,583.16 L424.00,586.01 L427.00,588.92 L430.00,591.88 L433.00,594.90 L436.00,597.98 L439.00,601.11 L442.00,604.30 L445.00,607.54 L448.00,610.83 L451.00,614.18 L454.00,617.58 L457.00,621.02 L460.00,624.52 L463.00,628.06 L466.00,631.65 L469.00,635.28 L472.00,638.95 L475.00,642.67 L478.00,646.43 L481.00,650.22 L484.00,654.06 L487.00,657.92 L487.50,658.57" fill="none" stroke="#111" stroke-width="10.6"/>
<path d="M255.00,509.37 L258.00,509.72 L261.00,510.08 L264.00,510.44 L267.00,510.81 L270.00,511.20 L273.00,511.59 L276.00,512.01 L279.00,512.44 L282.00,512.89 L285.00,513.36 L288.00,513.86 L291.00,514.38 L294.00,514.94 L297.00,515.52 L300.00,516.14 L303.00,516.79 L306.00,517.47 L309.00,518.19 L312.00,518.96 L315.00,519.76 L318.00,520.60 L321.00,521.49 L324.00,522.43 L327.00,523.41 L330.00,524.43 L333.00,525.51 L336.00,526.64 L339.00,527.81 L342.00,529.04 L345.00,530.33 L348.00,531.66 L351.00,533.05 L354.00,534.50 L357.00,536.01 L360.00,537.57 L363.00,539.19 L366.00,540.87 L369.00,542.60 L372.00,544.40 L375.00,546.26 L378.00,548.17 L381.00,550.15 L384.00,552.19 L387.00,554.29 L390.00,556.45 L393.00,558.67 L396.00,560.96 L399.00,563.30 L402.00,565.71 L405.00,568.18" fill="none" stroke="#fff" stroke-width="2.4" stroke-dasharray="3.8 4.6"/>
<path d="M253.00,503.74 L256.00,504.14 L259.00,504.54 L262.00,504.95 L265.00,505.36 L268.00,505.79 L271.00,506.22 L274.00,506.68 L277.00,507.14 L280.00,507.63 L283.00,508.14 L286.00,508.67 L289.00,509.22 L292.00,509.81 L295.00,510.42 L298.00,511.06 L301.00,511.74 L304.00,512.45 L307.00,513.20 L310.00,513.98 L313.00,514.81 L316.00,515.67 L319.00,516.58 L322.00,517.53 L325.00,518.53 L328.00,519.58 L331.00,520.67 L334.00,521.81 L337.00,523.00 L340.00,524.25 L343.00,525.55 L346.00,526.90 L349.00,528.30 L352.00,529.76 L355.00,531.28 L358.00,532.85 L361.00,534.48 L364.00,536.17 L367.00,537.91 L370.00,539.72 L373.00,541.59 L376.00,543.51 L379.00,545.50 L382.00,547.55 L385.00,549.66 L388.00,551.83 L391.00,554.06 L394.00,556.35 L397.00,558.70 L400.00,561.12 L403.00,563.59 L406.00,566.13 L409.00,568.73 L412.00,571.39 L415.00,574.11 L418.00,576.89 L421.00,579.73 L424.00,582.62 L427.00,585.58 L430.00,588.59 L433.00,591.66 L436.00,594.79 L439.00,597.97 L440.00,599.04" fill="none" stroke="#fff" stroke-width="1.15"/>
<path d="M440.00,599.04 L443.00,602.30 L446.00,605.61 L449.00,608.97 L452.00,612.38 L455.00,615.84 L458.00,619.36 L461.00,622.92 L464.00,626.52 L467.00,630.17 L470.00,633.87 L473.00,637.61 L476.00,641.39 L479.00,645.21 L482.00,649.07 L485.00,652.96 L488.00,656.89 L490.00,659.53" fill="none" stroke="#fff" stroke-width="1.3" stroke-dasharray="2.6 2.6"/>
<path d="M445.00,593.34 L448.00,596.63 L451.00,599.98 L454.00,603.38 L457.00,606.82 L460.00,610.32 L463.00,613.86 L466.00,617.45 L469.00,621.08 L472.00,624.75 L475.00,628.47 L478.00,632.23 L481.00,636.02 L484.00,639.86 L487.00,643.72 L490.00,647.63 L493.00,651.56 L496.00,655.52 L497.00,656.85" fill="none" stroke="#fff" stroke-width="1.2" stroke-dasharray="1.8 4.4"/>
<rect x="216.55" y="468.25" width="8.5" height="8.5" fill="#fff" stroke="#111" stroke-width="1.8"/>
<circle cx="302.5" cy="509.6" r="4.3" fill="#fff" stroke="#111" stroke-width="1.8"/>
<rect x="317.95" y="504.75" width="8.5" height="8.5" fill="#fff" stroke="#111" stroke-width="1.8"/>
<rect x="291.35" y="511.75" width="8.5" height="8.5" fill="#fff" stroke="#111" stroke-width="1.8"/>
<circle cx="287.8" cy="524.6" r="4.3" fill="#fff" stroke="#111" stroke-width="1.8"/>
<circle cx="317.5" cy="531.3" r="4.3" fill="#fff" stroke="#111" stroke-width="1.8"/>
<circle cx="337.8" cy="539.8" r="4.3" fill="#fff" stroke="#111" stroke-width="1.8"/>
<circle cx="342.2" cy="538" r="4.3" fill="#fff" stroke="#111" stroke-width="1.8"/>
<circle cx="343.8" cy="525.6" r="4.3" fill="#fff" stroke="#111" stroke-width="1.8"/>
<rect x="343.95" y="529.55" width="8.5" height="8.5" fill="#fff" stroke="#111" stroke-width="1.8"/>
<rect x="308.15" y="549.35" width="8.5" height="8.5" fill="#fff" stroke="#111" stroke-width="1.8"/>
<circle cx="357.5" cy="533" r="4.3" fill="#fff" stroke="#111" stroke-width="1.8"/>
<rect x="366.95" y="484.25" width="8.5" height="8.5" fill="#fff" stroke="#111" stroke-width="1.8"/>
<circle cx="371.4" cy="499" r="4.3" fill="#fff" stroke="#111" stroke-width="1.8"/>
<circle cx="387.3" cy="499.2" r="4.3" fill="#fff" stroke="#111" stroke-width="1.8"/>
<circle cx="376.8" cy="505.7" r="4.3" fill="#fff" stroke="#111" stroke-width="1.8"/>
<circle cx="362" cy="511.2" r="4.3" fill="#fff" stroke="#111" stroke-width="1.8"/>
<polygon points="377.20,506.10 382.90,511.80 377.20,517.50 371.50,511.80" fill="#fff" stroke="#111" stroke-width="2.6" stroke-linejoin="round"/>
<circle cx="374.2" cy="522" r="4.3" fill="#fff" stroke="#111" stroke-width="1.8"/>
<circle cx="376.2" cy="528.4" r="4.3" fill="#fff" stroke="#111" stroke-width="1.8"/>
<circle cx="385.2" cy="526.5" r="4.3" fill="#fff" stroke="#111" stroke-width="1.8"/>
<circle cx="360" cy="528.5" r="4.3" fill="#fff" stroke="#111" stroke-width="1.8"/>
<circle cx="362" cy="547.6" r="4.3" fill="#fff" stroke="#111" stroke-width="1.8"/>
<circle cx="387.6" cy="543.6" r="4.3" fill="#fff" stroke="#111" stroke-width="1.8"/>
<circle cx="383" cy="560.3" r="4.3" fill="#fff" stroke="#111" stroke-width="1.8"/>
<circle cx="393" cy="558.6" r="4.3" fill="#fff" stroke="#111" stroke-width="1.8"/>
<circle cx="396.7" cy="478.7" r="4.3" fill="#fff" stroke="#111" stroke-width="1.8"/>
<circle cx="416" cy="542" r="4.3" fill="#fff" stroke="#111" stroke-width="1.8"/>
<circle cx="424" cy="542" r="4.3" fill="#fff" stroke="#111" stroke-width="1.8"/>
<circle cx="411.7" cy="536.8" r="4.3" fill="#fff" stroke="#111" stroke-width="1.8"/>
<circle cx="415.8" cy="542.6" r="4.3" fill="#fff" stroke="#111" stroke-width="1.8"/>
<circle cx="423.9" cy="540.8" r="4.3" fill="#fff" stroke="#111" stroke-width="1.8"/>
<circle cx="439.2" cy="480.8" r="4.3" fill="#fff" stroke="#111" stroke-width="1.8"/>
<circle cx="447" cy="493" r="4.3" fill="#fff" stroke="#111" stroke-width="1.8"/>
<rect x="400.95" y="502.15" width="8.5" height="8.5" fill="#fff" stroke="#111" stroke-width="1.8"/>
<circle cx="414.1" cy="500.6" r="4.3" fill="#fff" stroke="#111" stroke-width="1.8"/>
<rect x="429.55" y="508.95" width="8.5" height="8.5" fill="#fff" stroke="#111" stroke-width="1.8"/>
<circle cx="439.1" cy="509.9" r="4.3" fill="#fff" stroke="#111" stroke-width="1.8"/>
<circle cx="428" cy="517.5" r="4.3" fill="#fff" stroke="#111" stroke-width="1.8"/>
<circle cx="443.4" cy="530.3" r="4.3" fill="#fff" stroke="#111" stroke-width="1.8"/>
<circle cx="506.9" cy="443.8" r="4.3" fill="#fff" stroke="#111" stroke-width="1.8"/>
<polygon points="462.50,495.10 466.50,503.20 458.50,503.20" fill="#fff" stroke="#111" stroke-width="2.1" stroke-linejoin="round"/>
<circle cx="467.8" cy="515.3" r="4.3" fill="#fff" stroke="#111" stroke-width="1.8"/>
<rect x="484.25" y="514.35" width="8.5" height="8.5" fill="#fff" stroke="#111" stroke-width="1.8"/>
<circle cx="464.2" cy="532.2" r="4.3" fill="#fff" stroke="#111" stroke-width="1.8"/>
<rect x="431.85" y="562.55" width="8.5" height="8.5" fill="#fff" stroke="#111" stroke-width="1.8"/>
<circle cx="477" cy="616.3" r="4.3" fill="#fff" stroke="#111" stroke-width="1.8"/>
<circle cx="393.2" cy="596" r="4.3" fill="#fff" stroke="#111" stroke-width="1.8"/>
<circle cx="400.4" cy="627.6" r="4.3" fill="#fff" stroke="#111" stroke-width="1.8"/>
<circle cx="424.4" cy="626.2" r="4.3" fill="#fff" stroke="#111" stroke-width="1.8"/>
<circle cx="413.1" cy="637.6" r="4.3" fill="#fff" stroke="#111" stroke-width="1.8"/>
<circle cx="438" cy="654" r="4.3" fill="#fff" stroke="#111" stroke-width="1.8"/>
<polygon points="299.00,579.90 304.70,585.60 299.00,591.30 293.30,585.60" fill="#fff" stroke="#111" stroke-width="2.6" stroke-linejoin="round"/>
<rect x="335.15" y="586.75" width="8.5" height="8.5" fill="#fff" stroke="#111" stroke-width="1.8"/>
<circle cx="340.4" cy="583" r="4.3" fill="#fff" stroke="#111" stroke-width="1.8"/>
<circle cx="372" cy="587" r="4.3" fill="#fff" stroke="#111" stroke-width="1.8"/>
<rect x="356.75" y="603.15" width="8.5" height="8.5" fill="#fff" stroke="#111" stroke-width="1.8"/>
<circle cx="353.6" cy="708" r="4.3" fill="#fff" stroke="#111" stroke-width="1.8"/>
<circle cx="306.9" cy="499" r="4.3" fill="#c2c2c2" stroke="#111" stroke-width="1.8"/>
<polygon points="311.50,514.30 317.20,520.00 311.50,525.70 305.80,520.00" fill="#c2c2c2" stroke="#111" stroke-width="2.6" stroke-linejoin="round"/>
<polygon points="311.00,531.30 316.70,537.00 311.00,542.70 305.30,537.00" fill="#c2c2c2" stroke="#111" stroke-width="2.6" stroke-linejoin="round"/>
<polygon points="330.50,526.30 336.20,532.00 330.50,537.70 324.80,532.00" fill="#c2c2c2" stroke="#111" stroke-width="2.6" stroke-linejoin="round"/>
<circle cx="365.8" cy="511.6" r="4.3" fill="#c2c2c2" stroke="#111" stroke-width="1.8"/>
<rect x="386.25" y="547.05" width="8.5" height="8.5" fill="#c2c2c2" stroke="#111" stroke-width="1.8"/>
<circle cx="403.2" cy="546.8" r="4.3" fill="#c2c2c2" stroke="#111" stroke-width="1.8"/>
<circle cx="449.2" cy="486.7" r="4.3" fill="#c2c2c2" stroke="#111" stroke-width="1.8"/>
<rect x="413.15" y="522.55" width="8.5" height="8.5" fill="#c2c2c2" stroke="#111" stroke-width="1.8"/>
<rect x="459.55" y="499.35" width="8.5" height="8.5" fill="#c2c2c2" stroke="#111" stroke-width="1.8"/>
<rect x="478.35" y="582.35" width="8.5" height="8.5" fill="#c2c2c2" stroke="#111" stroke-width="1.8"/>
<rect x="480.05" y="707.75" width="8.5" height="8.5" fill="#c2c2c2" stroke="#111" stroke-width="1.8"/>
<circle cx="379.4" cy="642" r="4.3" fill="#c2c2c2" stroke="#111" stroke-width="1.8"/>
<rect x="363.75" y="670.15" width="8.5" height="8.5" fill="#c2c2c2" stroke="#111" stroke-width="1.8"/>
<circle cx="339.4" cy="737.4" r="4.3" fill="#c2c2c2" stroke="#111" stroke-width="1.8"/>
<polygon points="418.10,500.10 422.10,508.20 414.10,508.20" fill="#fff" stroke="#111" stroke-width="2.1" stroke-linejoin="round"/>
<polygon points="475.10,476.10 479.10,484.20 471.10,484.20" fill="#fff" stroke="#111" stroke-width="2.1" stroke-linejoin="round"/>
<polygon points="500.80,493.90 504.80,502.00 496.80,502.00" fill="#fff" stroke="#111" stroke-width="2.1" stroke-linejoin="round"/>
<polygon points="350.40,624.60 354.40,632.70 346.40,632.70" fill="#fff" stroke="#111" stroke-width="2.1" stroke-linejoin="round"/>
<rect x="92.3" y="19.3" width="145.2" height="132" fill="#fff" stroke="#111" stroke-width="1.4"/>
<polygon points="112.70,34.60 116.70,42.70 108.70,42.70" fill="#fff" stroke="#111" stroke-width="2.1" stroke-linejoin="round"/>
<polygon points="146.00,34.60 150.00,42.70 142.00,42.70" fill="#c2c2c2" stroke="#111" stroke-width="2.1" stroke-linejoin="round"/>
<circle cx="112.7" cy="66.2" r="4.3" fill="#fff" stroke="#111" stroke-width="1.8"/>
<circle cx="145.9" cy="66.2" r="4.3" fill="#c2c2c2" stroke="#111" stroke-width="1.8"/>
<rect x="108.55" y="89.95" width="8.5" height="8.5" fill="#fff" stroke="#111" stroke-width="1.8"/>
<rect x="141.65" y="89.75" width="8.5" height="8.5" fill="#c2c2c2" stroke="#111" stroke-width="1.8"/>
<polygon points="145.90,116.30 151.60,122.00 145.90,127.70 140.20,122.00" fill="#c2c2c2" stroke="#111" stroke-width="2.6" stroke-linejoin="round"/>
<text transform="translate(67.00,17.40) scale(1.06,1)" font-size="19" text-anchor="end" >1000</text>
<text transform="translate(67.10,175.65) scale(1.06,1)" font-size="19" text-anchor="end" >100</text>
<text transform="translate(67.00,334.70) scale(1.06,1)" font-size="19" text-anchor="end" >10</text>
<text transform="translate(65.30,417.40) scale(1.06,1)" font-size="19" text-anchor="end" >1.00</text>
<text transform="translate(65.20,565.40) scale(1.06,1)" font-size="19" text-anchor="end" >0.10</text>
<text transform="translate(64.50,713.40) scale(1.06,1)" font-size="19" text-anchor="end" >0.01</text>
<text transform="translate(131.10,835.30) scale(1.06,1)" font-size="19" text-anchor="middle" >1</text>
<text transform="translate(242.10,835.30) scale(1.06,1)" font-size="19" text-anchor="middle" >10</text>
<text transform="translate(352.40,835.30) scale(1.06,1)" font-size="19" text-anchor="middle" >100</text>
<text transform="translate(462.40,835.30) scale(1.06,1)" font-size="19" text-anchor="middle" >1000</text>
<text transform="translate(572.90,835.30) scale(1.06,1)" font-size="19" text-anchor="middle" >10000</text>
<text x="82.30" y="400.30" font-size="18.5" text-anchor="start" >(a)</text>
<text x="82.30" y="799.60" font-size="18.5" text-anchor="start" >(b)</text>
<text x="292.60" y="862.00" font-size="15.5">12</text>
<text transform="translate(308.9,868.8) scale(1.12,1)" font-size="21.5">C</text>
<text x="323.60" y="868.80" font-size="21.5">/</text>
<text x="333.60" y="862.00" font-size="15.5">13</text>
<text transform="translate(347.2,868.8) scale(1.12,1)" font-size="21.5">C</text>
<g transform="translate(23.6,250) rotate(-90)">
<text x="2.40" y="-7.6" font-size="15">14</text>
<text x="17.10" y="0" font-size="21">N</text>
<text x="32.80" y="0.8" font-size="24">/</text>
<text x="43.20" y="-7.6" font-size="15">15</text>
<text x="57.50" y="0" font-size="21">N</text>
</g>
<g transform="translate(21.0,670) rotate(-90)">
<text x="6.20" y="-8.4" font-size="15">26</text>
<text x="22.90" y="0" font-size="21">Al</text>
<text x="43.20" y="0.8" font-size="24.5">/</text>
<text x="52.90" y="-8.4" font-size="15">27</text>
<text x="69.70" y="0" font-size="21">Al</text>
</g>
<text transform="translate(179.60,44.00) scale(1.03,1)" font-size="19" text-anchor="start" >X0</text>
<text transform="translate(179.60,72.00) scale(1.03,1)" font-size="19" text-anchor="start" >X1</text>
<text transform="translate(179.80,100.20) scale(1.02,1)" font-size="19" text-anchor="start" >X2</text>
<text transform="translate(180.3,127.8) scale(1.06,1)" font-size="19">Si<tspan font-size="15.5" dy="6">3</tspan><tspan dy="-6">N</tspan><tspan font-size="15.5" dy="6">4</tspan></text>
<text transform="translate(296.00,43.00) scale(1.05,1)" font-size="18.5" text-anchor="start" >1a</text>
<text transform="translate(403.30,41.20) scale(1.05,1)" font-size="18.5" text-anchor="start" >1b</text>
<text x="281.00" y="123.50" font-size="18.5" text-anchor="start" >2a</text>
<text transform="translate(287.20,90.40) scale(1.04,1)" font-size="18.5" text-anchor="start" >2b</text>
<text x="432.50" y="293.50" font-size="18.5" text-anchor="start" >3a</text>
<text x="549.30" y="294.50" font-size="18.5" text-anchor="start" >3b</text>
</svg></body></html>
